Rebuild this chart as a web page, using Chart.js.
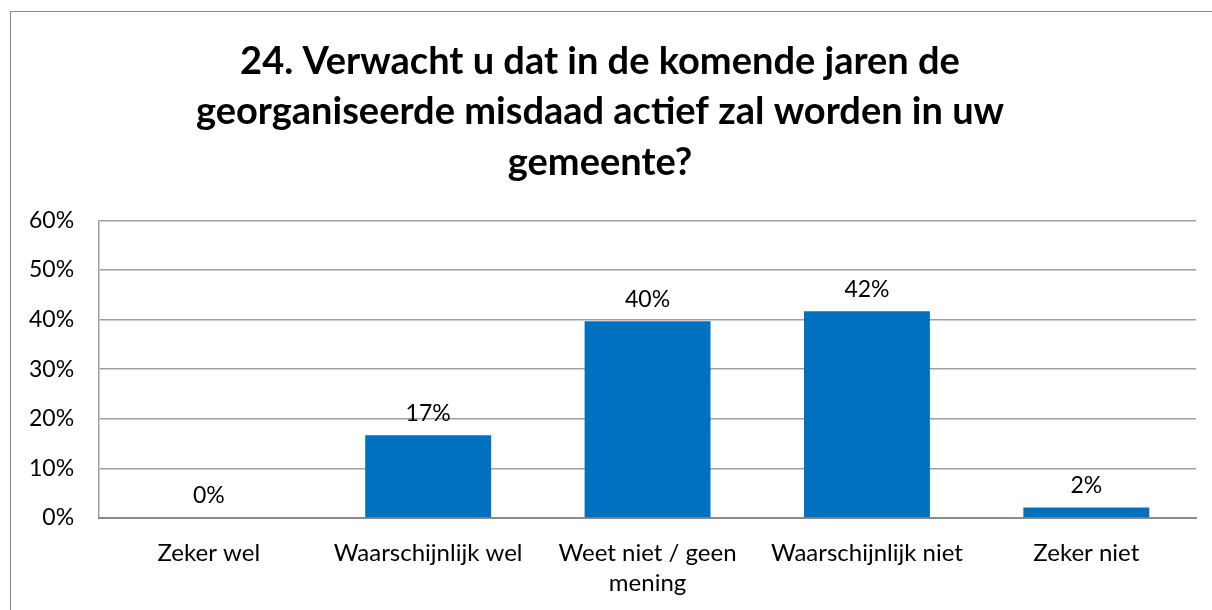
<!DOCTYPE html>
<html><head><meta charset="utf-8">
<script src="https://cdn.jsdelivr.net/npm/chart.js@4"></script>
<style>
html,body{margin:0;padding:0;background:#fff;overflow:hidden}
#frame{position:absolute;left:10px;top:11px;width:1240px;height:640px;border:1px solid #898989;box-sizing:border-box}
#wrap{position:absolute;left:0;top:0;width:1212px;height:610px}
</style></head><body>
<div id="frame"></div>
<div id="wrap"><canvas id="c" width="1212" height="610"></canvas></div>
<script>
const titleLines = ["24. Verwacht u dat in de komende jaren de", "georganiseerde misdaad actief zal worden in uw", "gemeente?"];
const categories = [["Zeker wel"], ["Waarschijnlijk wel"], ["Weet niet / geen", "mening"], ["Waarschijnlijk niet"], ["Zeker niet"]];
const values = [0.0, 0.167, 0.397, 0.417, 0.021];
const valueLabels = ["0%", "17%", "40%", "42%", "2%"];
const yTicks = [0, 0.1, 0.2, 0.3, 0.4, 0.5, 0.6];

const FONT = "Lato, 'Open Sans', sans-serif";

const dataLabels = {
  id: 'dataLabels',
  afterDatasetsDraw(chart) {
    const ctx = chart.ctx;
    const meta = chart.getDatasetMeta(0);
    ctx.save();
    ctx.font = "23px " + FONT;
    ctx.fillStyle = "#000";
    ctx.textAlign = "center";
    ctx.textBaseline = "middle";
    meta.data.forEach((bar, i) => {
      ctx.fillText(valueLabels[i], bar.x, bar.y - 22);
    });
    ctx.restore();
  }
};

new Chart(document.getElementById('c'), {
  type: 'bar',
  data: {
    labels: categories,
    datasets: [{
      data: values,
      backgroundColor: '#0070C0',
      barPercentage: 1.0,
      categoryPercentage: 0.574
    }]
  },
  options: {
    responsive: false,
    animation: false,
    devicePixelRatio: 1,
    layout: { padding: { left: 4, right: 16, top: 0, bottom: -8 } },
    plugins: {
      legend: { display: false },
      tooltip: { enabled: false },
      title: {
        display: true,
        text: titleLines,
        color: '#000',
        font: { family: FONT, size: 38, weight: 'bold', lineHeight: 1.32 },
        padding: { top: 37, bottom: 33 }
      }
    },
    scales: {
      y: {
        min: 0, max: 0.6,
        afterBuildTicks(axis) { axis.ticks = yTicks.map(v => ({ value: v })); },
        ticks: {
          color: '#000',
          font: { family: FONT, size: 23 },
          padding: 25,
          callback: v => Math.round(v * 100) + '%'
        },
        grid: { color: '#a0a0a0', lineWidth: 1.5, drawTicks: false },
        border: { display: true, color: '#a0a0a0', width: 1.5 }
      },
      x: {
        ticks: {
          color: '#000',
          font: { family: FONT, size: 24, lineHeight: 1.25 },
          padding: 20,
          maxRotation: 0, autoSkip: false
        },
        grid: { display: false, drawTicks: false },
        border: { display: true, color: '#8a8a8a', width: 2 }
      }
    }
  },
  plugins: [dataLabels]
});
</script>
</body></html>
